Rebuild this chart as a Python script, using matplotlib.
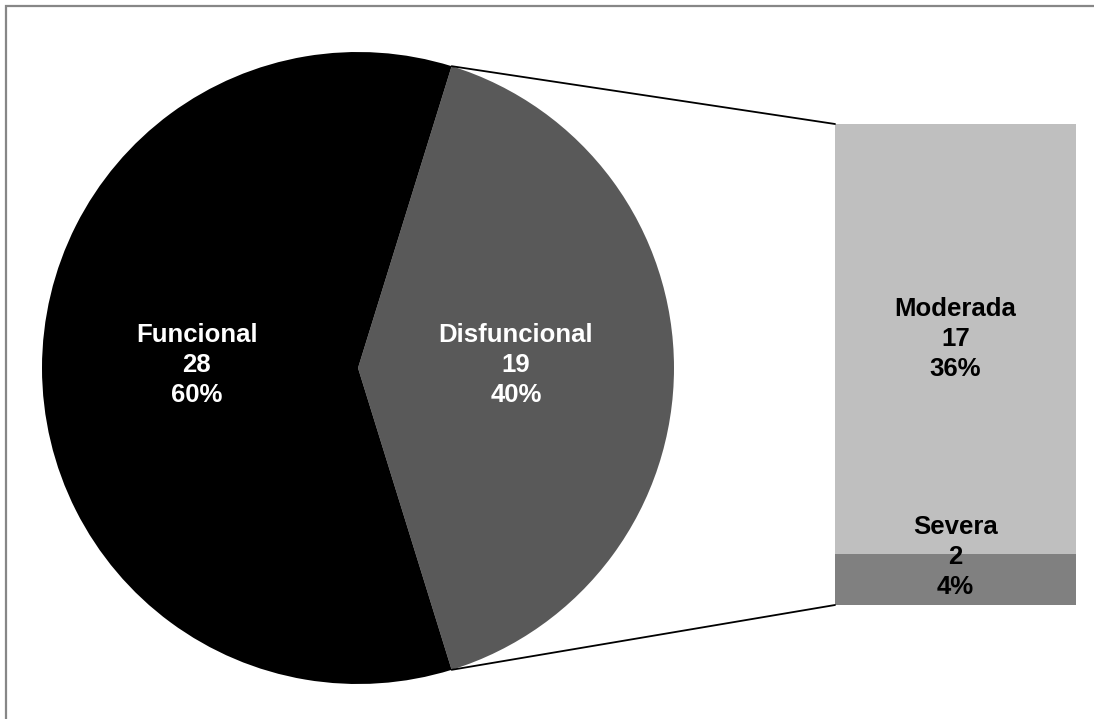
import matplotlib.pyplot as plt
from matplotlib.patches import ConnectionPatch, Rectangle
import numpy as np

plt.rcParams['font.family'] = ['Liberation Sans', 'DejaVu Sans']

# main pie
pie_labels = ["Disfuncional", "Funcional"]
pie_counts = [19, 28]
pie_pcts = ["40%", "60%"]
pie_colors = ["#595959", "#000000"]

# bar breakdown of "Disfuncional" (bottom to top)
bar_labels = ["Severa", "Moderada"]
bar_counts = [2, 17]
bar_pcts = ["4%", "36%"]
bar_colors = ["#808080", "#bfbfbf"]

W, H = 1094, 719
fig = plt.figure(figsize=(W / 100, H / 100), dpi=100)

# outer frame (only top/left visible)
fig.patches.append(Rectangle((6 / W, -0.05), 1.1, (H - 6) / H + 0.05,
                             transform=fig.transFigure, fill=False,
                             edgecolor="#878787", linewidth=1.6))

# pie axes: centre (358, 368) px, radius 316 px
cx, cy, r = 358, 368, 316
ax = fig.add_axes([(cx - r) / W, (H - cy - r) / H, 2 * r / W, 2 * r / H])

disf_angle = pie_counts[0] / sum(pie_counts) * 360
wedges, _ = ax.pie(pie_counts, colors=pie_colors, radius=1,
                   startangle=-disf_angle / 2, counterclock=True,
                   wedgeprops=dict(linewidth=0))
ax.set_xlim(-1, 1)
ax.set_ylim(-1, 1)
ax.axis("off")

for w, lab, n, p, d in zip(wedges, pie_labels, pie_counts, pie_pcts, [0.5, 0.51]):
    mid = np.deg2rad((w.theta1 + w.theta2) / 2)
    ax.text(d * np.cos(mid), d * np.sin(mid) + 0.01, "%s\n%d\n%s" % (lab, n, p),
            ha="center", va="center", color="white", fontsize=18.5,
            fontweight="bold", linespacing=1.3)

# bar axes: x 835-1076, y 124-605 px
bx0, bx1, by0, by1 = 835, 1076, 124, 605
bax = fig.add_axes([bx0 / W, (H - by1) / H, (bx1 - bx0) / W, (by1 - by0) / H])
bax.set_xlim(-0.5, 0.5)
bax.set_ylim(0, sum(bar_counts))
bax.axis("off")

bottom = 0
offsets = [0.9, 0]
for lab, n, p, c, off in zip(bar_labels, bar_counts, bar_pcts, bar_colors, offsets):
    bax.bar(0, n, width=1, bottom=bottom, color=c, linewidth=0)
    bax.text(0, bottom + n / 2 + off, "%s\n%d\n%s" % (lab, n, p),
             ha="center", va="center", color="black", fontsize=18.5,
             fontweight="bold", linespacing=1.3)
    bottom += n

# connector lines
t1, t2 = wedges[0].theta1, wedges[0].theta2
for ang, yb in [(t2, sum(bar_counts)), (t1, 0)]:
    a = np.deg2rad(ang)
    con = ConnectionPatch(xyA=(np.cos(a), np.sin(a)), coordsA=ax.transData,
                          xyB=(-0.5, yb), coordsB=bax.transData,
                          color="black", linewidth=1.3)
    fig.add_artist(con)

fig.savefig("out.png", dpi=100, facecolor="white")
